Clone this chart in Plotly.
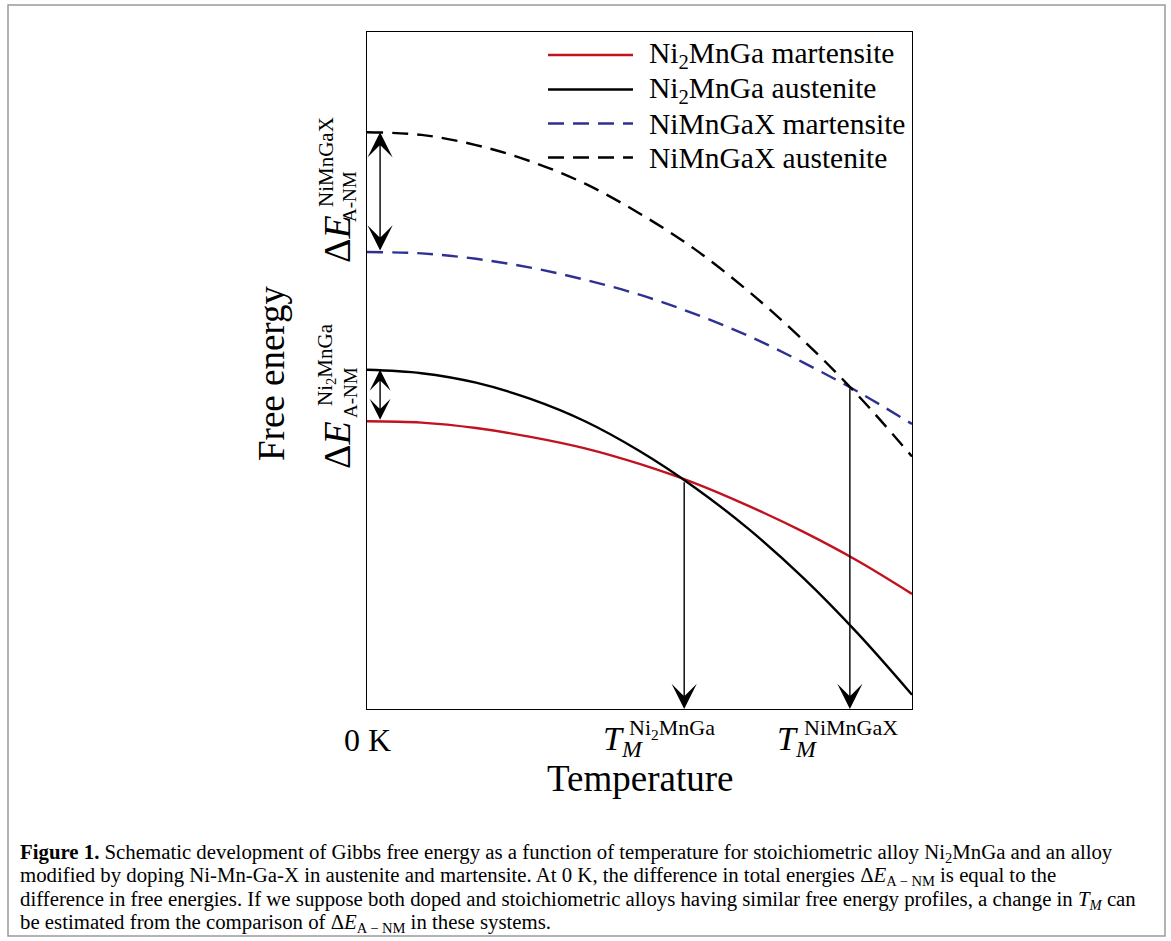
import plotly.graph_objects as go

# ---------------- data (schematic values) ----------------
temperature = [0, 10, 20, 30, 40, 50, 60, 70, 80, 90, 100]
ni2mnga_martensite = [42.5, 42.3, 41.5, 40.2, 38.5, 36.2, 33.4, 30.0, 26.2, 21.9, 17.0]
ni2mnga_austenite = [50.1, 49.6, 48.2, 45.8, 42.5, 38.1, 32.8, 26.6, 19.4, 11.2, 2.1]
nimngax_martensite = [67.5, 67.3, 66.5, 65.2, 63.4, 61.2, 58.4, 55.1, 51.2, 46.9, 42.1]
nimngax_austenite = [85.2, 84.8, 83.3, 80.9, 77.6, 73.2, 68.0, 61.7, 54.5, 46.4, 37.3]

# transition points (crossings) and energy differences at 0 K
tm_ni2mnga = [58.2, 33.7]
tm_nimngax = [88.6, 47.6]
de_nimngax = [85.2, 67.5]
de_ni2mnga = [50.1, 42.5]
de_x = 2.4

series_names = ["Ni<sub>2</sub>MnGa martensite", "Ni<sub>2</sub>MnGa austenite",
                "NiMnGaX martensite", "NiMnGaX austenite"]
series_values = [ni2mnga_martensite, ni2mnga_austenite, nimngax_martensite, nimngax_austenite]
series_colors = ["#C1121F", "#000000", "#2E3192", "#000000"]
series_dash = ["solid", "solid", "16px,9px", "16px,9px"]

caption_lines = [
    "<b>Figure 1.</b> Schematic development of Gibbs free energy as a function of temperature for stoichiometric alloy Ni<sub>2</sub>MnGa and an alloy",
    "modified by doping Ni-Mn-Ga-X in austenite and martensite. At 0 K, the difference in total energies Δ<i>E</i><sub>A − NM</sub> is equal to the",
    "difference in free energies. If we suppose both doped and stoichiometric alloys having similar free energy profiles, a change in <i>T</i><sub><i>M</i></sub> can",
    "be estimated from the comparison of Δ<i>E</i><sub>A − NM</sub> in these systems.",
]

# ---------------- layout helpers ----------------
W_FIG, H_FIG = 1171, 941
L, R, T, B = 367, 912, 32, 709
PW, PH = R - L, B - T
FONT = "Liberation Serif, Times New Roman, serif"


def px(x):
    return (x - L) / PW


def py(y):
    return (B - y) / PH


fig = go.Figure()
for name, vals, col, dash in zip(series_names, series_values, series_colors, series_dash):
    fig.add_trace(go.Scatter(x=temperature, y=vals, mode="lines", name=name,
                             line=dict(color=col, width=2.4, dash=dash, shape="spline"),
                             showlegend=False, hoverinfo="skip"))

annotations = []
shapes = []


def text(t, x, y, size, angle=0, xanchor="center", yanchor="middle", color="black"):
    annotations.append(dict(text=t, x=px(x), y=py(y), xref="paper", yref="paper",
                            showarrow=False, textangle=angle, xanchor=xanchor, yanchor=yanchor,
                            font=dict(family=FONT, size=size, color=color)))


def arrow(x0, y0, x1, y1, side="end", size=3.0):
    annotations.append(dict(text="", x=x1, y=y1, ax=x0, ay=y0, xref="x", yref="y",
                            axref="x", ayref="y", showarrow=True, arrowhead=3,
                            arrowside=side, arrowsize=size, arrowwidth=1.4,
                            arrowcolor="black", standoff=0, startstandoff=0))


# vertical arrows from crossing points to temperature axis
arrow(tm_ni2mnga[0], tm_ni2mnga[1], tm_ni2mnga[0], 0)
arrow(tm_nimngax[0], tm_nimngax[1], tm_nimngax[0], 0)
# double arrows at 0 K
arrow(de_x, de_nimngax[1], de_x, de_nimngax[0], side="end+start", size=3.0)
arrow(de_x, de_ni2mnga[1], de_x, de_ni2mnga[0], side="end+start", size=2.5)

# legend (drawn manually to match spacing)
legend_rows = [55, 89.5, 123.5, 157.5]
for name, col, dash, yy in zip(series_names, series_colors, series_dash, legend_rows):
    shapes.append(dict(type="line", xref="paper", yref="paper", x0=px(548), x1=px(633),
                       y0=py(yy), y1=py(yy), line=dict(color=col, width=2.4, dash=dash)))
    text(name, 647, yy + 0.5, 29.5, xanchor="left")

# axis labels
text("Free energy", 271, 374, 37, angle=-90)
text("Temperature", 640, 779, 37)
text("0 K", 367.5, 740, 32)

# T_M labels
text("<i>T</i><sub><i>M</i></sub>", 601, 741, 34, xanchor="left")
text("Ni<sub>2</sub>MnGa", 627, 729, 22, xanchor="left")
text("<i>T</i><sub><i>M</i></sub>", 775, 741, 34, xanchor="left")
text("NiMnGaX", 802, 727, 22, xanchor="left")

# Delta E labels (rotated)
text("Δ<i>E</i>", 337, 239, 38, angle=-90)
text("NiMnGaX", 326, 162, 21, angle=-90)
text("A-NM", 350, 197, 19, angle=-90)
text("Δ<i>E</i>", 337, 445, 38, angle=-90)
text("Ni<sub>2</sub>MnGa", 326, 365, 21, angle=-90)
text("A-NM", 350, 393, 19, angle=-90)

# caption
for i, line in enumerate(caption_lines):
    text(line, 18, 853 + i * 23.4, 20.8, xanchor="left")

# outer frame
shapes.append(dict(type="rect", xref="paper", yref="paper", x0=px(8), x1=px(1165),
                   y0=py(936), y1=py(5), line=dict(color="#9a9a9a", width=1.5)))

fig.update_layout(
    width=W_FIG, height=H_FIG, autosize=False,
    margin=dict(l=L, r=W_FIG - R, t=T, b=H_FIG - B, pad=0),
    paper_bgcolor="white", plot_bgcolor="white",
    xaxis=dict(range=[0, 100], showticklabels=False, ticks="", showgrid=False, zeroline=False,
               showline=True, mirror=True, linecolor="black", linewidth=1.2, fixedrange=True),
    yaxis=dict(range=[0, 100], showticklabels=False, ticks="", showgrid=False, zeroline=False,
               showline=True, mirror=True, linecolor="black", linewidth=1.2, fixedrange=True),
    annotations=annotations, shapes=shapes, showlegend=False,
    font=dict(family=FONT, color="black"),
)

fig.write_html("out.html", config={"displayModeBar": False},
               post_script="document.body.style.margin='0px';document.body.style.overflow='hidden';")
